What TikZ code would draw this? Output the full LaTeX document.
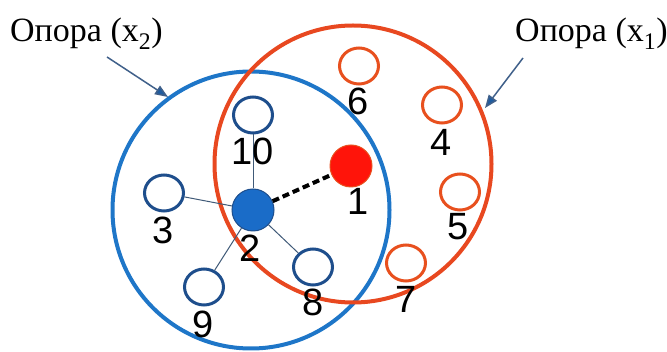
\documentclass[tikz,border=0pt]{standalone}
\usepackage{fontspec}
\setmainfont{Liberation Serif}
\newfontfamily\digitfont{Liberation Sans}
\usetikzlibrary{shapes.geometric,arrows.meta}
\definecolor{bigblue}{RGB}{30,118,200}
\definecolor{bigred}{RGB}{232,72,32}
\definecolor{nodeblue}{RGB}{30,78,140}
\definecolor{nodered}{RGB}{232,80,30}
\definecolor{fillred}{RGB}{255,20,10}
\definecolor{fillblue}{RGB}{26,108,200}
\definecolor{edgecol}{RGB}{64,90,120}
\definecolor{arrowline}{RGB}{64,96,138}
\definecolor{arrowtip}{RGB}{31,92,160}
\begin{document}
\begin{tikzpicture}[x=1pt,y=-1pt,
  hollowblue/.style={ellipse,draw=nodeblue,line width=3pt,fill=white,minimum width=39pt,minimum height=36pt,inner sep=0pt},
  hollowred/.style={ellipse,draw=nodered,line width=3pt,fill=white,minimum width=39pt,minimum height=36pt,inner sep=0pt},
  numlabel/.style={font=\digitfont\fontsize{38}{38}\selectfont,inner sep=0pt},
  caption/.style={font=\fontsize{34}{34}\selectfont,inner sep=0pt,anchor=base west},
  link/.style={draw=edgecol,line width=1pt},
  pointer/.style={draw=arrowline,line width=1.5pt,-{Triangle[length=13pt,width=10pt,fill=arrowtip]}},
  bigcircle/.style={circle,line width=4pt,minimum size=277pt,inner sep=0pt}
]
\useasboundingbox (0,0) rectangle (667,352);
% big circles
\node[bigcircle,draw=bigblue] (cx2) at (251,210) {};
\node[bigcircle,draw=bigred] (cx1) at (353,164) {};
% captions
\node[caption] (t2) at (10,42) {Опора (x\textsubscript{2})};
\node[caption] (t1) at (515,42) {Опора (x\textsubscript{1})};
\coordinate (a2s) at (107,57);
\coordinate (a2e) at (168,97);
\coordinate (a1s) at (523,58);
\coordinate (a1e) at (485,108);
\draw[pointer] (a2s) -- (a2e);
\draw[pointer] (a1s) -- (a1e);
% nodes
\node[hollowblue] (n10) at (253,115) {};
\node[hollowblue] (n3) at (164,193) {};
\node[hollowblue] (n9) at (204,287) {};
\node[hollowblue] (n8) at (313,267) {};
\node[hollowred] (n6) at (359,66) {};
\node[hollowred] (n4) at (442,105) {};
\node[hollowred] (n5) at (460,192) {};
\node[hollowred] (n7) at (406,263) {};
\node[circle,fill=fillred,draw=nodered,line width=1pt,minimum size=42pt,inner sep=0pt] (n1) at (351,166) {};
\node[circle,fill=fillblue,draw=nodeblue,line width=1pt,minimum size=42pt,inner sep=0pt] (n2) at (253,210) {};
% links
\draw[link] (n2) -- (n10);
\draw[link] (n2) -- (n3);
\draw[link] (n2) -- (n9);
\draw[link] (n2) -- (n8);
\draw[black,line width=4pt,dash pattern=on 7pt off 4pt] (n2) -- (n1);
% labels
\node[numlabel] (l1) at (358,201) {1};
\node[numlabel] (l2) at (250,248) {2};
\node[numlabel] (l3) at (163,230) {3};
\node[numlabel] (l4) at (441,142) {4};
\node[numlabel] (l5) at (458,227) {5};
\node[numlabel] (l6) at (358,101) {6};
\node[numlabel] (l7) at (406,299) {7};
\node[numlabel] (l8) at (313,302) {8};
\node[numlabel] (l9) at (203,324) {9};
\node[numlabel] (l10) at (253,151) {10};
\end{tikzpicture}
\end{document}
